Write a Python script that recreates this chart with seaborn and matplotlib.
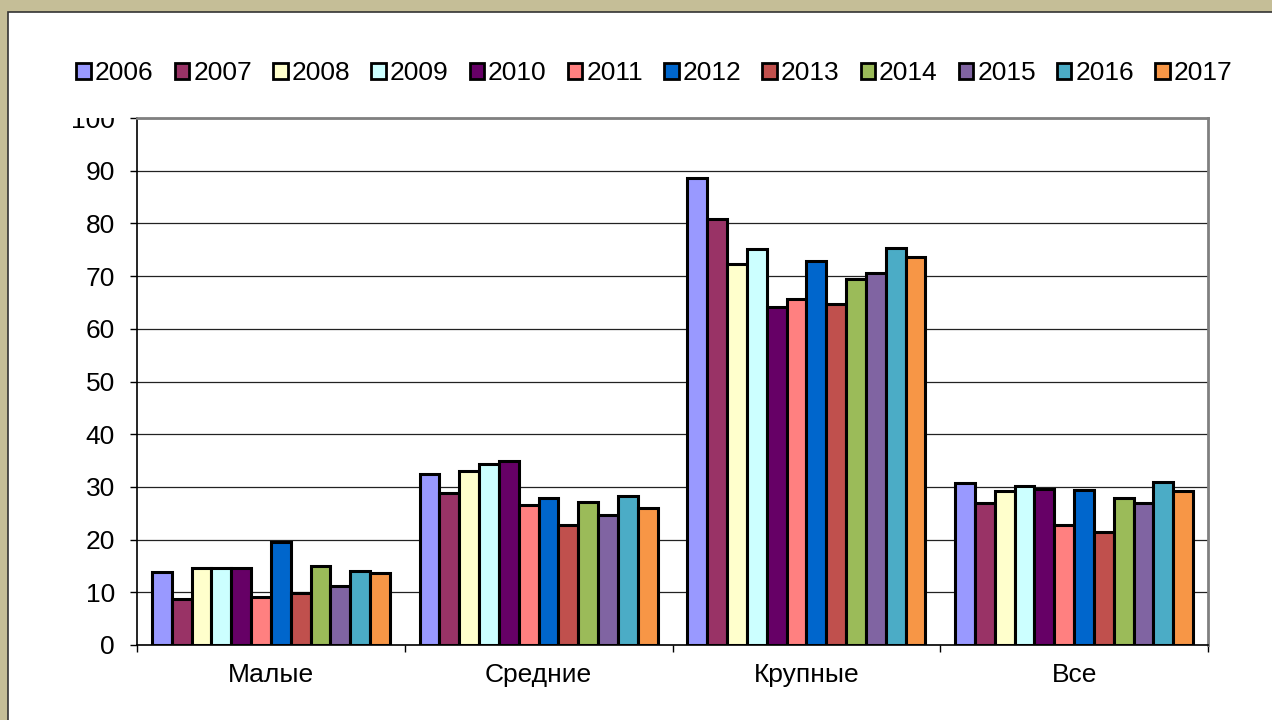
import seaborn as sns
import matplotlib.pyplot as plt
import matplotlib
from matplotlib.patches import Patch, Rectangle
from matplotlib.transforms import Bbox
import pandas as pd

categories = ['Малые', 'Средние', 'Крупные', 'Все']
years = ['2006', '2007', '2008', '2009', '2010', '2011', '2012', '2013', '2014', '2015', '2016', '2017']
colors = ['#9999FF', '#993366', '#FFFFCC', '#CCFFFF', '#660066', '#FF8080',
          '#0066CC', '#C0504D', '#9BBB59', '#8064A2', '#4BACC6', '#F79646']

small = [13.8, 8.7, 14.7, 14.7, 14.7, 9.2, 19.5, 9.9, 15.0, 11.2, 14.1, 13.7]
medium = [32.5, 28.9, 33.0, 34.3, 35.0, 26.6, 27.8, 22.8, 27.2, 24.6, 28.3, 26.0]
large = [88.6, 80.8, 72.3, 75.2, 64.2, 65.7, 72.8, 64.7, 69.5, 70.5, 75.3, 73.7]
total = [30.8, 27.0, 29.2, 30.2, 29.6, 22.8, 29.5, 21.5, 27.8, 26.9, 30.9, 29.2]

rows = []
for cat, vals in zip(categories, [small, medium, large, total]):
    for y, v in zip(years, vals):
        rows.append({'cat': cat, 'year': y, 'value': v})
df = pd.DataFrame(rows)

sns.set_style('white')
plt.rcParams['font.family'] = ['Liberation Sans', 'DejaVu Sans']
plt.rcParams['text.color'] = 'black'
plt.rcParams['xtick.color'] = 'black'
plt.rcParams['ytick.color'] = 'black'
fs = 19

fig = plt.figure(figsize=(12.72, 7.2), dpi=100)
fig.patch.set_facecolor('#C5BE97')
fig.patches.append(Rectangle((8 / 1272, -0.05), 1.1, 1 - 12 / 720 + 0.05, transform=fig.transFigure,
                             facecolor='white', edgecolor='#333333', linewidth=1.2, zorder=-5))

ax = fig.add_axes([137 / 1272, 1 - 645 / 720, (1208 - 137) / 1272, (645 - 118) / 720])
ax.set_facecolor('white')
sns.barplot(data=df, x='cat', y='value', hue='year', palette=colors, width=12 / 13.5,
            saturation=1, edgecolor='black', linewidth=2.2, ax=ax, legend=False, zorder=3)

ax.set_ylim(0, 100)
ax.set_xlim(-0.5, 3.5)
ax.set_yticks(range(0, 101, 10))
ax.yaxis.grid(True, color='#222222', linewidth=0.9, zorder=0)
ax.set_axisbelow(True)
ax.set_xlabel('')
ax.set_ylabel('')
ax.set_xticks([0, 1, 2, 3])
ax.set_xticklabels(categories)
ax.set_xticks([-0.5, 0.5, 1.5, 2.5, 3.5], minor=True)
ax.tick_params(axis='x', which='major', length=0, pad=13, labelsize=fs)
ax.tick_params(axis='x', which='minor', length=5, width=1, color='black', direction='out', bottom=True)
ax.tick_params(axis='y', length=5, width=1, color='black', pad=11, labelsize=fs, left=True)
for s in ['left', 'bottom']:
    ax.spines[s].set_color('black')
    ax.spines[s].set_linewidth(1.2)
for s in ['top', 'right']:
    ax.spines[s].set_color('#808080')
    ax.spines[s].set_linewidth(2)

# top label "100" is cut by the plot border in the original
fig.canvas.draw()
lbl = ax.get_yticklabels()[-1]
lbl.set_clip_box(Bbox.from_extents(0, 0, 1272, 720 - 118))
lbl.set_clip_on(True)

handles = [Patch(facecolor=c, edgecolor='black', linewidth=2) for c in colors]
fig.legend(handles, years, loc='center', bbox_to_anchor=(0.5145, 1 - 73 / 720), ncol=12,
           frameon=False, fontsize=fs, handlelength=0.55, handleheight=0.55,
           handletextpad=0.15, columnspacing=0.8, borderaxespad=0)

fig.savefig('out.png', dpi=100, facecolor=fig.get_facecolor())
